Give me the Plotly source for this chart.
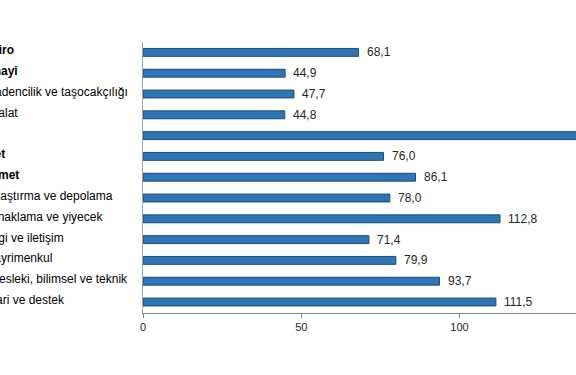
import plotly.graph_objects as go

categories = [
    "Toplam ciro", "Sanayi", "Madencilik ve taşocakçılığı", "İmalat", "İnşaat",
    "Ticaret", "Hizmet", "Ulaştırma ve depolama", "Konaklama ve yiyecek",
    "Bilgi ve iletişim", "Gayrimenkul", "Mesleki, bilimsel ve teknik", "İdari ve destek",
]
values = [68.1, 44.9, 47.7, 44.8, 142.0, 76.0, 86.1, 78.0, 112.8, 71.4, 79.9, 93.7, 111.5]
bold = [True, True, False, False, True, True, True, False, False, False, False, False, False]
tick_vals = [0, 50, 100]
tick_text = ["0", "50", "100"]

# layout: right end (pixels from figure left) of each category label
label_end_px = [16, 20, 130, 20, 2, 7, 21, 115, 105, 66, 54, 130, 67]

W, H = 576, 375
ml, mr, mt, mb = 143, 0, 42, 62
px_per_unit = 3.165
x_max = (W - ml - mr) / px_per_unit
FONT = "Liberation Sans, Arial"

fig = go.Figure()
fig.add_trace(go.Bar(
    x=values, y=categories, orientation="h",
    marker=dict(color="#2E75B6", line=dict(color="#1F4E79", width=1)),
    hoverinfo="skip",
))

for cat, v in zip(categories, values):
    fig.add_annotation(
        x=v, xref="x", y=cat, yref="y",
        text=f"{v:.1f}".replace(".", ","),
        xanchor="left", yanchor="middle", showarrow=False, xshift=6,
        font=dict(family=FONT, size=12, color="#262626"),
    )

plot_w = W - ml - mr
for cat, b, endpx in zip(categories, bold, label_end_px):
    fig.add_annotation(
        x=(endpx - ml) / plot_w, xref="paper", y=cat, yref="y",
        text=f"<b>{cat}</b>" if b else cat,
        xanchor="right", yanchor="middle", showarrow=False, yshift=2,
        font=dict(family=FONT, size=12, color="#000000"),
    )

fig.update_layout(
    width=W, height=H,
    margin=dict(l=ml, r=mr, t=mt, b=mb),
    paper_bgcolor="white", plot_bgcolor="white",
    showlegend=False, bargap=0.62,
    xaxis=dict(
        range=[0, x_max], tickvals=tick_vals, ticktext=tick_text,
        showgrid=False, zeroline=False, showline=True, linecolor="#868686", linewidth=1,
        ticks="outside", ticklen=4, tickcolor="#868686",
        tickfont=dict(family=FONT, size=11, color="#262626"),
        fixedrange=True,
    ),
    yaxis=dict(
        autorange="reversed", showticklabels=False, showgrid=False, zeroline=False,
        showline=True, linecolor="#a6a6a6", linewidth=1, ticks="",
        fixedrange=True,
    ),
)

fig.write_html("out.html", config={"displayModeBar": False},
               post_script="document.body.style.margin='0';document.body.style.overflow='hidden';")
